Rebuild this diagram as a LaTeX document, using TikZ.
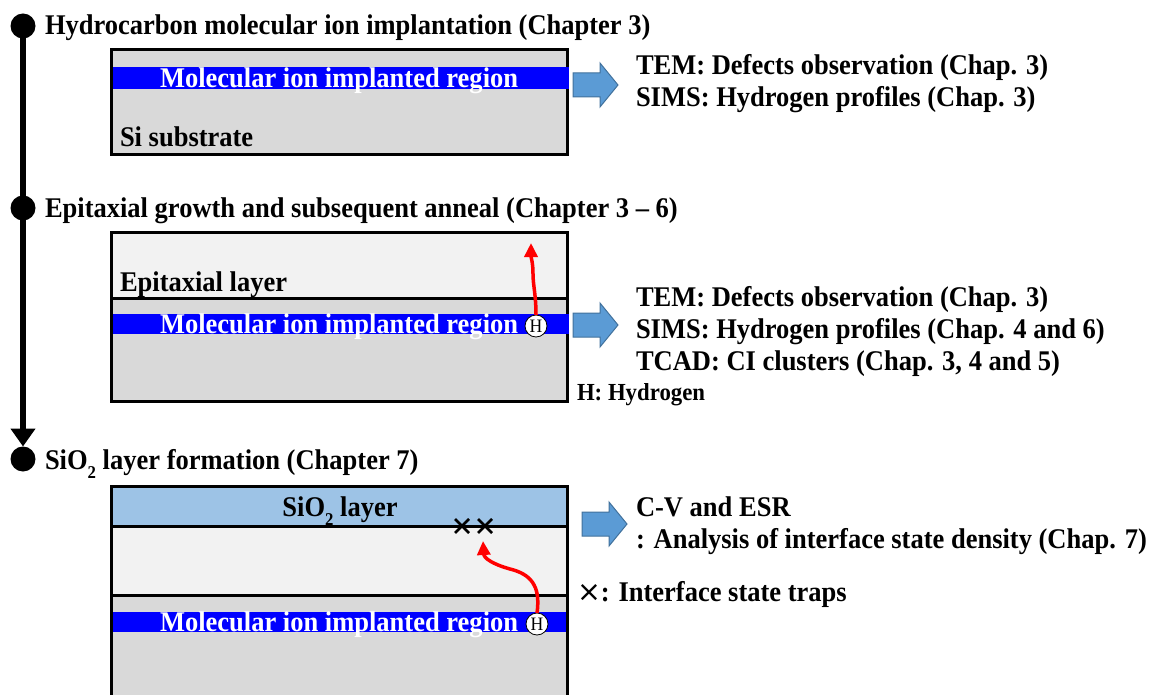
\documentclass[tikz,border=0pt]{standalone}
\usepackage{fontspec}
\setmainfont{Liberation Serif}[FakeStretch=0.93]
\newfontfamily\symfont{DejaVu Sans}
\usetikzlibrary{arrows.meta,shapes.misc}
\definecolor{subst}{HTML}{D9D9D9}
\definecolor{epi}{HTML}{F2F2F2}
\definecolor{oxide}{HTML}{9DC3E6}
\definecolor{implant}{HTML}{0000FF}
\definecolor{fatblue}{HTML}{5B9BD5}
\definecolor{fatedge}{HTML}{41719C}

\newcommand\subtwo{\raisebox{-0.32em}{\fontsize{18}{18}\selectfont 2}}

\tikzset{
  pics/fatarrow/.style={code={
    \draw[fill=fatblue, draw=fatedge, line width=1pt]
      (0,-12) -- (27,-12) -- (27,-22) -- (45,0) -- (27,22) -- (27,12) -- (0,12) -- cycle;
  }}
}

\begin{document}
\begin{tikzpicture}[x=1pt,y=-1pt,
  every node/.style={inner sep=0pt, outer sep=0pt},
  lbl/.style={font=\fontsize{28.5}{30}\selectfont\bfseries, anchor=base west},
  smalllbl/.style={font=\fontsize{24.5}{26}\selectfont\bfseries, anchor=base west},
  wl/.style={lbl, text=white},
  boxedge/.style={draw=black, line width=3pt},
  stepdot/.style={circle, fill=black, minimum size=25pt},
  hatom/.style={circle, draw=black, fill=white, line width=0.8pt, minimum size=22pt,
                font=\fontsize{19}{19}\selectfont},
  hpath/.style={draw=red, line width=3.5pt, -{Triangle[length=14pt,width=13pt]}},
  trap/.style={cross out, draw=black, line width=2.6pt, minimum size=14pt},
]
\useasboundingbox (0,0) rectangle (1153,695);

% ---- process timeline ----
\node[stepdot] (s1) at (23,26) {};
\node[stepdot] (s2) at (23,208) {};
\node[stepdot] (s3) at (23,459) {};
\draw[line width=6pt, -{Triangle[length=18pt,width=24pt]}] (s1.center) -- (s3.north);

\node[lbl] (t1) at (45,35) {Hydrocarbon molecular ion implantation (Chapter 3)};
\node[lbl] (t2) at (45,218) {Epitaxial growth and subsequent anneal (Chapter 3 -- 6)};
\node[lbl] (t3) at (45,469) {SiO\subtwo{} layer formation (Chapter 7)};

% ---- step 1: implanted substrate ----
\fill[subst] (111,50) rectangle (567,155);
\draw[boxedge] (111,50) rectangle (567,155);
\fill[implant] (112.5,67) rectangle (568.5,89);
\node[wl] (imp1) at (160,88) {Molecular ion implanted region};
\node[lbl] (sub1) at (120,147) {Si substrate};

\pic at (573,85) {fatarrow};
\node[lbl] (r11) at (636,75) {TEM: Defects observation (Chap. 3)};
\node[lbl] (r12) at (636,107) {SIMS: Hydrogen profiles (Chap. 3)};

% ---- step 2: epitaxial layer on implanted substrate ----
\fill[epi] (111,232) rectangle (567,298);
\fill[subst] (111,298) rectangle (567,401);
\draw[boxedge] (111,232) rectangle (567,401);
\draw[boxedge] (111,298) -- (567,298);
\fill[implant] (112.5,314) rectangle (568.5,334);
\node[lbl] (epi2) at (120,291) {Epitaxial layer};
\node[wl] (imp2) at (160,333) {Molecular ion implanted region};
\node[hatom] (h2) at (536,326) {H};
\coordinate (esc) at (531,243);
\draw[hpath] (h2.north) .. controls (536,295) and (533,285) .. (533,274)
  .. controls (533,262) and (531,258) .. (esc);

\pic at (573,325) {fatarrow};
\node[lbl] (r21) at (636,306) {TEM: Defects observation (Chap. 3)};
\node[lbl] (r22) at (636,338) {SIMS: Hydrogen profiles (Chap. 4 and 6)};
\node[lbl] (r23) at (636,370) {TCAD: CI clusters (Chap. 3, 4 and 5)};
\node[smalllbl] (hleg) at (577,400) {H: Hydrogen};

% ---- step 3: oxide on epitaxial layer ----
\fill[oxide] (111,486) rectangle (567,526);
\fill[epi] (111,526) rectangle (567,595);
\fill[subst] (111,595) rectangle (567,700);
\fill[implant] (112.5,612) rectangle (568.5,632);
\draw[boxedge] (111,700) -- (111,486) -- (567,486) -- (567,700);
\draw[boxedge] (111,526) -- (567,526);
\draw[boxedge] (111,595) -- (567,595);
\node[lbl, anchor=base] (ox) at (340,516) {SiO\subtwo{} layer};
\node[wl] (imp3) at (160,631) {Molecular ion implanted region};
\node[trap] (x1) at (462,526) {};
\node[trap] (x2) at (485,526) {};
\node[hatom] (h3) at (537,624) {H};
\coordinate (hit) at (483,541);
\draw[hpath] (h3.north) .. controls (541,585) and (530,574) .. (510,569)
  .. controls (492,564) and (484,558) .. (hit);

\pic at (582,524) {fatarrow};
\node[lbl] (r31) at (636,516) {C-V and ESR};
\node[lbl] (r32) at (636,548) {: Analysis of interface state density (Chap. 7)};
\node[lbl] (xleg) at (577,601) {{\symfont\mdseries ×}: Interface state traps};
\end{tikzpicture}
\end{document}
